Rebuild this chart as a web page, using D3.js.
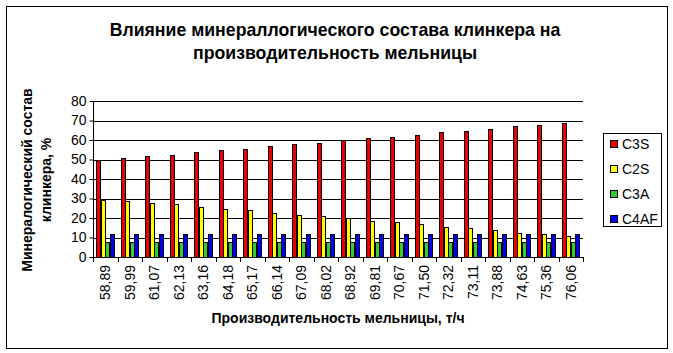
<!DOCTYPE html>
<html>
<head>
<meta charset="utf-8">
<script src="https://cdn.jsdelivr.net/npm/d3@7"></script>
<style>
    body { margin: 0; background: #fff; }
    svg { display: block; font-family: Arial, "Liberation Sans", sans-serif; }
</style>
</head>
<body>
<div id="chart"></div>
<script>
// производительность мельницы, т/ч
const categories = ['58,89', '59,99', '61,07', '62,13', '63,16', '64,18', '65,17', '66,14', '67,09', '68,02',
    '68,92', '69,81', '70,67', '71,50', '72,32', '73,11', '73,88', '74,63', '75,36', '76,06'];
const seriesNames = ['C3S', 'C2S', 'C3A', 'C4AF'];
const c3s = [49.6, 50.7, 51.8, 52.4, 53.8, 54.8, 55.4, 56.8, 57.8, 58.5, 60.0, 60.9, 61.6, 62.8, 64.0, 64.6, 65.7, 67.2, 67.8, 68.9];
const c2s = [29.2, 28.7, 27.6, 27.0, 25.6, 24.6, 23.9, 22.6, 21.4, 20.9, 19.8, 18.3, 17.8, 16.8, 15.4, 14.7, 13.7, 12.2, 11.7, 10.8];
const c3a = [7.5, 7.5, 7.5, 7.5, 7.5, 7.5, 7.5, 7.5, 7.5, 7.5, 7.5, 7.5, 7.5, 7.5, 7.5, 7.5, 7.5, 7.5, 7.5, 7.5];
const c4af = [11.8, 11.8, 11.8, 11.8, 11.8, 11.8, 11.8, 11.8, 11.8, 11.8, 11.8, 11.8, 11.8, 11.8, 11.8, 11.8, 11.8, 11.8, 11.8, 11.8];
const yTicks = [0, 10, 20, 30, 40, 50, 60, 70, 80];

const values = [c3s, c2s, c3a, c4af];
const colors = ['#ee0000', '#ffff00', '#33cc33', '#0000ee'];

const width = 673, height = 353;
const plot = { left: 93, right: 583, top: 101, bottom: 257 };

const svg = d3.select('#chart').append('svg')
    .attr('width', width)
    .attr('height', height);

// рамка диаграммы
svg.append('rect')
    .attr('x', 6.5).attr('y', 6.5)
    .attr('width', 661).attr('height', 342)
    .attr('fill', '#fff')
    .attr('stroke', '#000');

// заголовок
const title = svg.append('text')
    .attr('text-anchor', 'middle')
    .attr('font-size', 17.7)
    .attr('font-weight', 'bold');
title.append('tspan').attr('x', 335).attr('y', 36).text('Влияние минераллогического состава клинкера на');
title.append('tspan').attr('x', 335).attr('y', 59).text('производительность мельницы');

const x = d3.scaleBand()
    .domain(categories)
    .range([plot.left, plot.right]);

const xInner = d3.scaleBand()
    .domain(seriesNames)
    .range([0, x.bandwidth()])
    .paddingOuter(0.78);

const y = d3.scaleLinear()
    .domain([0, 80])
    .range([plot.bottom, plot.top]);

// сетка
svg.append('g')
    .selectAll('line')
    .data(yTicks.slice(1))
    .join('line')
    .attr('x1', plot.left).attr('x2', plot.right)
    .attr('y1', d => Math.round(y(d)) + 0.5)
    .attr('y2', d => Math.round(y(d)) + 0.5)
    .attr('stroke', '#000');

// столбцы
const groups = svg.append('g')
    .selectAll('g')
    .data(seriesNames)
    .join('g')
    .attr('fill', (d, i) => colors[i]);

groups.selectAll('rect')
    .data((s, si) => values[si].map((v, i) => ({ s: s, c: categories[i], v: v })))
    .join('rect')
    .attr('x', d => Math.round(x(d.c) + xInner(d.s)) + 0.5)
    .attr('y', d => Math.round(y(d.v)) + 0.5)
    .attr('width', Math.round(xInner.bandwidth()))
    .attr('height', d => Math.round(y(0)) - Math.round(y(d.v)))
    .attr('stroke', '#000')
    .attr('stroke-width', 1);

// ось Y
const yAxis = d3.axisLeft(y)
    .tickValues(yTicks)
    .tickSize(4)
    .tickPadding(3);
const yAxisG = svg.append('g')
    .attr('transform', 'translate(' + (plot.left + 0.5) + ',0)')
    .call(yAxis);
yAxisG.selectAll('text').attr('font-size', 14).attr('fill', '#000').attr('font-family', 'Arial, "Liberation Sans", sans-serif');
yAxisG.selectAll('line').attr('stroke', '#000');
yAxisG.select('.domain').attr('stroke', '#000').attr('d', 'M0,' + plot.top + 'V' + (plot.bottom + 0.5));

// ось X
const xAxisG = svg.append('g');
xAxisG.append('line')
    .attr('x1', plot.left).attr('x2', plot.right)
    .attr('y1', plot.bottom + 0.5).attr('y2', plot.bottom + 0.5)
    .attr('stroke', '#000');
xAxisG.selectAll('.tick')
    .data(categories.concat([null]))
    .join('line')
    .attr('x1', d => (d === null ? Math.round(plot.right) : Math.round(x(d))) + 0.5)
    .attr('x2', d => (d === null ? Math.round(plot.right) : Math.round(x(d))) + 0.5)
    .attr('y1', plot.bottom)
    .attr('y2', plot.bottom + 5)
    .attr('stroke', '#000');
xAxisG.selectAll('text')
    .data(categories)
    .join('text')
    .attr('transform', d => 'translate(' + (x(d) + x.bandwidth() / 2) + ',' + (plot.bottom + 8) + ') rotate(-90)')
    .attr('text-anchor', 'end')
    .attr('dy', '0.35em')
    .attr('font-size', 14)
    .text(d => d);

// подписи осей
svg.append('text')
    .attr('x', 338).attr('y', 323)
    .attr('text-anchor', 'middle')
    .attr('font-size', 14)
    .attr('font-weight', 'bold')
    .text('Производительность мельницы, т/ч');

const yTitle = svg.append('text')
    .attr('transform', 'translate(32,180) rotate(-90)')
    .attr('text-anchor', 'middle')
    .attr('font-size', 14)
    .attr('font-weight', 'bold');
yTitle.append('tspan').attr('x', 0).attr('y', 0).text('Минералогический состав');
yTitle.append('tspan').attr('x', 0).attr('y', 19).text('клинкера, %');

// легенда
const legend = svg.append('g');
legend.append('rect')
    .attr('x', 603.5).attr('y', 133.5)
    .attr('width', 58).attr('height', 93)
    .attr('fill', '#fff')
    .attr('stroke', '#000');
const items = legend.selectAll('g.item')
    .data(seriesNames)
    .join('g')
    .attr('class', 'item')
    .attr('transform', (d, i) => 'translate(610,' + (144 + i * 25) + ')');
items.append('rect')
    .attr('x', 0.5).attr('y', -3.5)
    .attr('width', 7).attr('height', 7)
    .attr('fill', (d, i) => colors[i])
    .attr('stroke', '#000');
items.append('text')
    .attr('x', 12).attr('y', 0)
    .attr('dy', '0.35em')
    .attr('font-size', 14)
    .text(d => d);
</script>
</body>
</html>
